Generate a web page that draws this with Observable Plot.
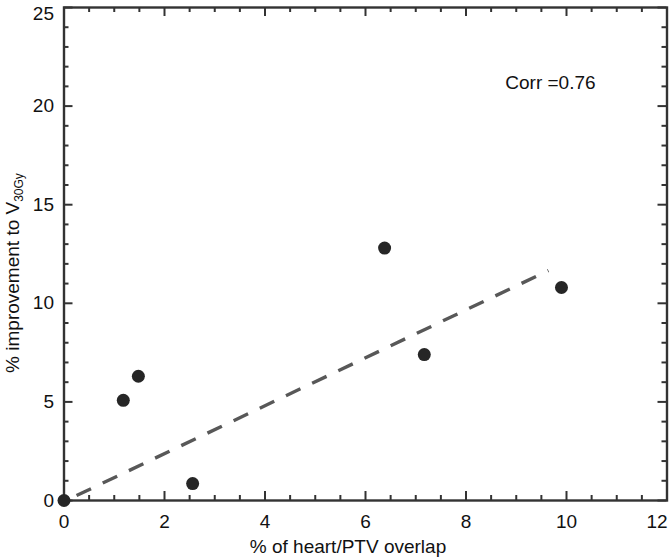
<!DOCTYPE html>
<html>
<head>
<meta charset="utf-8">
<script src="https://cdn.jsdelivr.net/npm/d3@7"></script>
<script src="https://cdn.jsdelivr.net/npm/@observablehq/plot@0.6"></script>
<style>
  html, body { margin: 0; padding: 0; background: #fff; }
  #chart { width: 672px; height: 560px; }
</style>
</head>
<body>
<div id="chart"></div>
<script>
// Data
const overlap = [0, 1.18, 1.48, 2.56, 6.38, 7.17, 9.9];          // % of heart/PTV overlap
const improvement = [0, 5.08, 6.3, 0.86, 12.8, 7.4, 10.8];       // % improvement to V30Gy

// Fitted trend line (dashed) end points
const trendX = [0.25, 9.64];
const trendY = [0.25, 11.66];

// Annotation
const corrLabel = ["Corr =0.76"];
const corrX = [9.68];
const corrY = [21.2];

// Tick values
const xMajor = [0, 2, 4, 6, 8, 10, 12];
const xLabels = [0, 2, 4, 6, 8, 10];
const xLastLabel = [12];
const xMinor = [0.5, 1, 1.5, 2.5, 3, 3.5, 4.5, 5, 5.5, 6.5, 7, 7.5, 8.5, 9, 9.5, 10.5, 11, 11.5];
const yMajor = [0, 5, 10, 15, 20, 25];
const yLabels = [0, 5, 10, 15, 20];
const yLastLabel = [25];
const yMinor = [1, 2, 3, 4, 6, 7, 8, 9, 11, 12, 13, 14, 16, 17, 18, 19, 21, 22, 23, 24];

const W = 672, H = 560;
const mL = 63.5, mR = 5.5, mT = 7, mB = 60;
const fw = W - mL - mR, fh = H - mT - mB;
const font = "'Liberation Sans', Arial, Helvetica, sans-serif";
const axisColor = "#333";
const textColor = "#111";

const points = overlap.map((x, i) => ({x, y: improvement[i]}));
const trend = trendX.map((x, i) => ({x, y: trendY[i]}));

const majorLen = 9, minorLen = 5;

// inward ticks on all four sides of the frame
function ticksX(values, len) {
  return [
    Plot.ruleX(values, {x: d => d, insetTop: fh - len, stroke: axisColor, strokeWidth: 2}),
    Plot.ruleX(values, {x: d => d, insetBottom: fh - len, stroke: axisColor, strokeWidth: 2})
  ];
}
function ticksY(values, len) {
  return [
    Plot.ruleY(values, {y: d => d, insetRight: fw - len, stroke: axisColor, strokeWidth: 2}),
    Plot.ruleY(values, {y: d => d, insetLeft: fw - len, stroke: axisColor, strokeWidth: 2})
  ];
}

const plot = Plot.plot({
  width: W,
  height: H,
  marginLeft: mL,
  marginRight: mR,
  marginTop: mT,
  marginBottom: mB,
  style: {fontFamily: font, fontSize: "19px", background: "#fff", color: textColor},
  x: {domain: [0, 12], label: null},
  y: {domain: [0, 25], label: null},
  marks: [
    Plot.frame({stroke: axisColor, strokeWidth: 2.4, fill: "none"}),
    ...ticksX(xMajor, majorLen),
    ...ticksX(xMinor, minorLen),
    ...ticksY(yMajor, majorLen),
    ...ticksY(yMinor, minorLen),
    // tick labels
    Plot.axisX(xLabels, {tickSize: 0, tickPadding: 14, fontSize: 19, fill: textColor, label: null}),
    Plot.axisX(xLastLabel, {tickSize: 0, tickPadding: 14, dx: -10, fontSize: 19, fill: textColor, label: null}),
    Plot.axisY(yLabels, {tickSize: 0, tickPadding: 10, fontSize: 19, fill: textColor, label: null}),
    Plot.axisY(yLastLabel, {tickSize: 0, tickPadding: 10, dy: 6, fontSize: 19, fill: textColor, label: null}),
    // dashed trend line
    Plot.line(trend, {x: "x", y: "y", stroke: "#585858", strokeWidth: 3.4, strokeDasharray: "16,13", strokeLinecap: "butt"}),
    // data points
    Plot.dot(points, {x: "x", y: "y", r: 6.5, fill: "#262626", stroke: "none"}),
    // correlation annotation
    Plot.text(corrLabel, {x: () => corrX[0], y: () => corrY[0], text: d => d, fontSize: 19, fill: textColor, textAnchor: "middle"})
  ]
});

document.getElementById("chart").appendChild(plot);

// Axis titles (x title and y title with subscript)
const svg = d3.select(plot);
svg.append("text")
  .attr("x", 348)
  .attr("y", 553)
  .attr("text-anchor", "middle")
  .attr("font-family", font)
  .attr("font-size", 19)
  .attr("fill", textColor)
  .text("% of heart/PTV overlap");

const yt = svg.append("text")
  .attr("transform", "translate(19,273) rotate(-90)")
  .attr("text-anchor", "middle")
  .attr("font-family", font)
  .attr("font-size", 19)
  .attr("fill", textColor);
yt.append("tspan").text("% improvement to V");
yt.append("tspan").attr("font-size", 12).attr("dy", 4).text("30Gy");
</script>
</body>
</html>
